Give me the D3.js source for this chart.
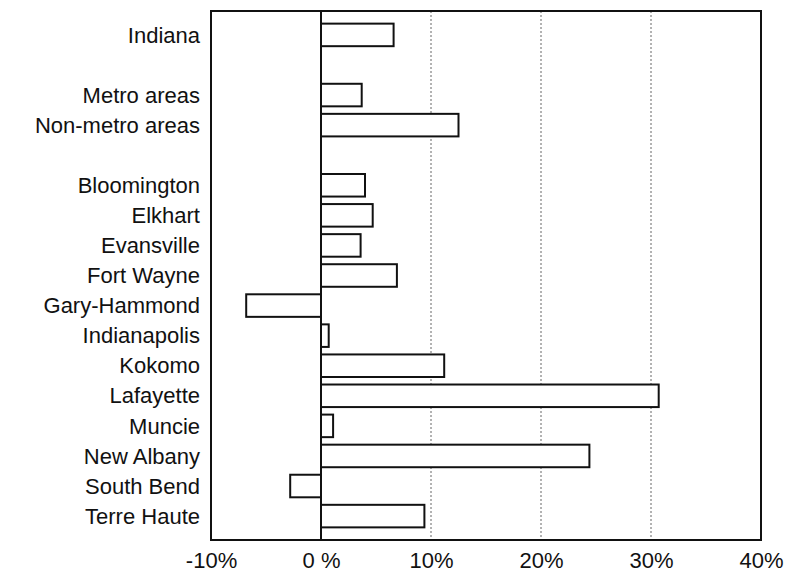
<!DOCTYPE html>
<html>
<head>
<meta charset="utf-8">
<script src="https://cdn.jsdelivr.net/npm/d3@7"></script>
<style>
  html, body { margin: 0; padding: 0; background: #fff; }
  svg { display: block; }
  text { font-family: "Liberation Sans", Arial, Helvetica, sans-serif; fill: #111; }
</style>
</head>
<body>
<svg id="chart" width="797" height="578"></svg>
<script>
// Row labels (empty strings are spacer rows)
const categories = [
  "Indiana", "",
  "Metro areas", "Non-metro areas", "",
  "Bloomington", "Elkhart", "Evansville", "Fort Wayne", "Gary-Hammond",
  "Indianapolis", "Kokomo", "Lafayette", "Muncie", "New Albany",
  "South Bend", "Terre Haute"
];
// Percent change for each row (null for spacer rows)
const values = [
  6.6, null,
  3.7, 12.5, null,
  4.0, 4.7, 3.6, 6.9, -6.8,
  0.7, 11.2, 30.7, 1.1, 24.4,
  -2.8, 9.4
];
const tickValues = [-10, 0, 10, 20, 30, 40];
const tickLabels = ["-10%", "0 %", "10%", "20%", "30%", "40%"];
const gridValues = [10, 20, 30];

(function () {
const svg = d3.select("#chart");
const mLeft = 211, mRight = 761, mTop = 11, mBottom = 540;

const x = d3.scaleLinear().domain([-10, 40]).range([mLeft, mRight]);
const y = d3.scaleBand()
  .domain(d3.range(categories.length))
  .range([mTop, mBottom])
  .paddingInner(0.25)
  .paddingOuter(0.42);

// gridlines
svg.append("g").selectAll("line").data(gridValues).join("line")
  .attr("x1", d => x(d)).attr("x2", d => x(d))
  .attr("y1", mTop).attr("y2", mBottom)
  .attr("stroke", "#666").attr("stroke-width", 1)
  .attr("stroke-dasharray", "2,2");

// bars
const rows = categories.map((c, i) => ({ c, v: values[i], i })).filter(d => d.v !== null);
svg.append("g").selectAll("rect").data(rows).join("rect")
  .attr("x", d => x(Math.min(0, d.v)))
  .attr("width", d => Math.abs(x(d.v) - x(0)))
  .attr("y", d => y(d.i))
  .attr("height", y.bandwidth())
  .attr("fill", "#fff")
  .attr("stroke", "#111")
  .attr("stroke-width", 2);

// zero line
svg.append("line")
  .attr("x1", x(0)).attr("x2", x(0))
  .attr("y1", mTop).attr("y2", mBottom)
  .attr("stroke", "#111").attr("stroke-width", 2);

// frame
svg.append("rect")
  .attr("x", mLeft).attr("y", mTop)
  .attr("width", mRight - mLeft).attr("height", mBottom - mTop)
  .attr("fill", "none").attr("stroke", "#111").attr("stroke-width", 2);

// category labels
const yAxis = d3.axisLeft(y).tickSize(0).tickPadding(0)
  .tickFormat(i => categories[i]);
const gy = svg.append("g").attr("transform", `translate(${mLeft - 11},0)`).call(yAxis);
gy.select(".domain").remove();
gy.selectAll("text")
  .style("font-size", "22px")
  .attr("fill", "#111")
  .attr("dy", "0.35em");

// x tick labels
const xAxis = d3.axisBottom(x).tickValues(tickValues).tickSize(0).tickPadding(0)
  .tickFormat((d, i) => tickLabels[i]);
const gx = svg.append("g").attr("transform", `translate(0,${mBottom + 12})`).call(xAxis);
gx.select(".domain").remove();
gx.selectAll("text")
  .style("font-size", "22px")
  .attr("fill", "#111")
  .attr("dy", "0.71em");
})();
</script>
</body>
</html>
